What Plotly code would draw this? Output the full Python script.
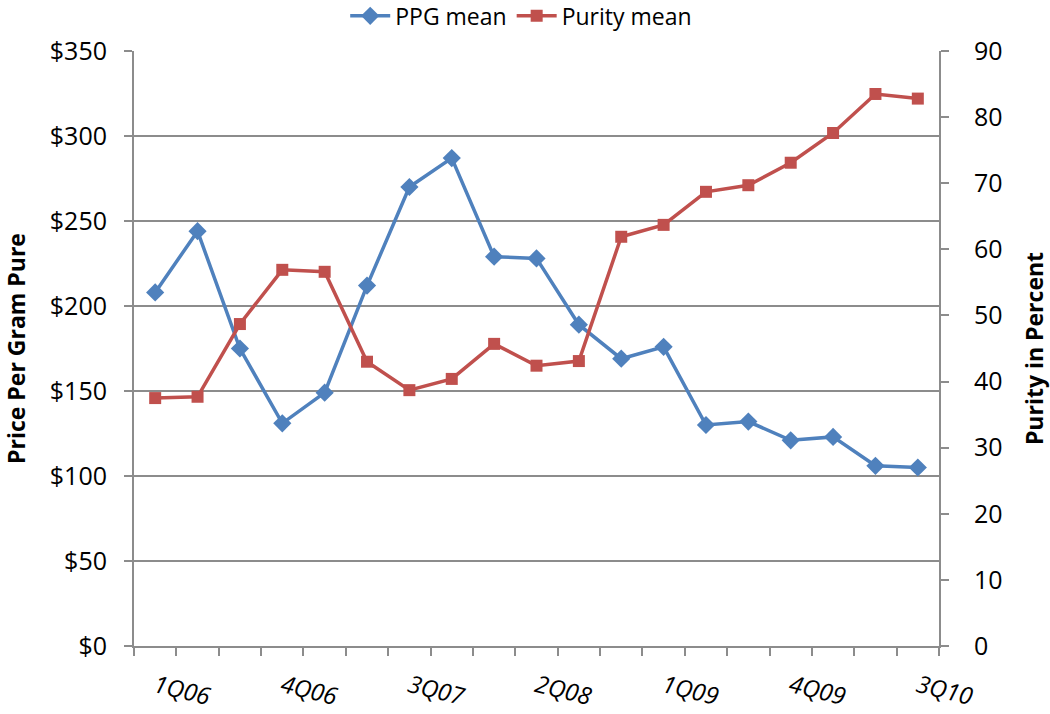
import plotly.graph_objects as go

quarters = ["1Q06", "2Q06", "3Q06", "4Q06", "1Q07", "2Q07", "3Q07", "4Q07",
            "1Q08", "2Q08", "3Q08", "4Q08", "1Q09", "2Q09", "3Q09", "4Q09",
            "1Q10", "2Q10", "3Q10"]
ppg_mean = [208, 244, 175, 131, 149, 212, 270, 287, 229, 228, 189, 169, 176,
            130, 132, 121, 123, 106, 105]
purity_mean = [37.5, 37.7, 48.7, 56.9, 56.6, 43.0, 38.7, 40.4, 45.7, 42.4, 43.1,
               61.9, 63.7, 68.7, 69.7, 73.1, 77.6, 83.5, 82.8]
left_ticks = [0, 50, 100, 150, 200, 250, 300, 350]
left_labels = ["$0", "$50", "$100", "$150", "$200", "$250", "$300", "$350"]
right_ticks = [0, 10, 20, 30, 40, 50, 60, 70, 80, 90]

xs = list(range(len(quarters)))
label_idx = list(range(0, len(quarters), 3))

BLUE = "#4F81BD"
RED = "#C0504D"
GRID = "#8C8C8C"
FONT = "Open Sans"

fig = go.Figure()
fig.add_trace(go.Scatter(
    x=xs, y=ppg_mean, name="PPG mean", mode="lines+markers",
    line=dict(color=BLUE, width=3.5),
    marker=dict(symbol="diamond", size=14, color=BLUE),
    yaxis="y"))
fig.add_trace(go.Scatter(
    x=xs, y=purity_mean, name="Purity mean", mode="lines+markers",
    line=dict(color=RED, width=3.5),
    marker=dict(symbol="square", size=12, color=RED),
    yaxis="y2"))

fig.update_layout(
    width=1050, height=714,
    margin=dict(l=134, r=111, t=51, b=68, autoexpand=False),
    paper_bgcolor="white", plot_bgcolor="white",
    font=dict(family=FONT, size=25, color="black"),
    showlegend=True,
    legend=dict(orientation="h", x=0.481, xanchor="center", xref="paper",
                y=1.059, yanchor="middle", yref="paper",
                font=dict(size=23), itemwidth=40, tracegroupgap=0),
    xaxis=dict(
        range=[-0.5, len(quarters) - 0.5],
        tickmode="array",
        tickvals=[xs[i] for i in label_idx],
        ticktext=[quarters[i] for i in label_idx],
        tickangle=14,
        ticks="",
        ticklabelstandoff=15,
        tickfont=dict(size=24, family=FONT, style="italic"),
        showgrid=False, zeroline=False, automargin=False,
        showline=True, linecolor=GRID, linewidth=2,
        minor=dict(ticks="outside", tick0=-0.5, dtick=1, ticklen=8,
                   tickcolor=GRID, tickwidth=2, showgrid=False),
    ),
    yaxis=dict(
        range=[0, 350], tickmode="array", tickvals=left_ticks, ticktext=left_labels,
        ticks="outside", ticklen=8, tickcolor=GRID, tickwidth=2,
        ticklabelstandoff=12,
        showgrid=True, gridcolor=GRID, gridwidth=2, automargin=False,
        zeroline=False, showline=True, linecolor=GRID, linewidth=2,
        title=dict(text="<b>Price Per Gram Pure</b>", font=dict(size=23), standoff=18),
        tickfont=dict(size=25),
    ),
    yaxis2=dict(
        range=[0, 90], tickmode="array", tickvals=right_ticks,
        overlaying="y", side="right",
        ticks="outside", ticklen=8, tickcolor=GRID, tickwidth=2,
        ticklabelstandoff=20, automargin=False,
        showgrid=False, zeroline=False, showline=True, linecolor=GRID, linewidth=2,
        title=dict(text="<b>Purity in Percent</b>", font=dict(size=23), standoff=26),
        tickfont=dict(size=25),
    ),
)

fig.write_html(
    "out.html",
    config={"displayModeBar": False},
    post_script="document.body.style.margin='0';document.body.style.overflow='hidden';",
)
